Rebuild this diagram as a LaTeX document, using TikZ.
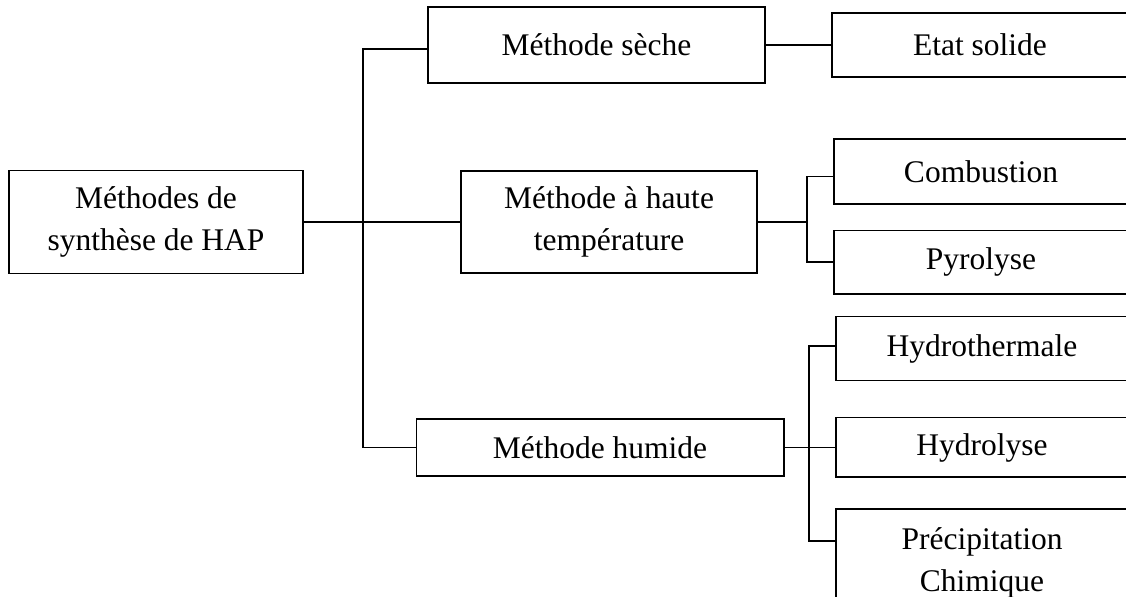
\documentclass[tikz,border=0pt]{standalone}
\usepackage{fontspec}
\setmainfont{Liberation Serif}
\usepackage{tikz}
\usetikzlibrary{positioning,calc}

\tikzset{
  box/.style={draw, line width=0.8pt, align=center, inner sep=0pt},
  link/.style={line width=0.8pt}
}

\begin{document}
\begin{tikzpicture}[x=0.5pt, y=-0.5pt, font=\fontsize{15.75}{20.8}\selectfont]
% 1 unit = 1 px of the 1126 x 597 sheet, y downwards
\useasboundingbox (0,0) rectangle (1126,597);
\clip (0,0) rectangle (1126,597);
\node[box, minimum width=147pt, minimum height=51.5pt] (root) at (156,222) {Méthodes de\\synthèse de HAP};
\node[box, minimum width=168.5pt, minimum height=37.8pt] (seche) at (596.5,45) {Méthode sèche};
\node[box, minimum width=148pt, minimum height=51pt] (haute) at (609,222) {Méthode à haute\\température};
\node[box, minimum width=183.7pt, minimum height=28.3pt] (humide) at (600,447.5) {Méthode humide};
% right column, cut by the sheet edge
\node[box, minimum width=148pt, minimum height=32pt] (etat) at (980,45) {Etat solide};
\node[box, minimum width=147pt, minimum height=32.5pt] (comb) at (981,171.5) {Combustion};
\node[box, minimum width=147pt, minimum height=31.7pt] (pyro) at (981,262.3) {Pyrolyse};
\node[box, minimum width=146pt, minimum height=32pt] (hydrot) at (982,348.7) {Hydrothermale};
\node[box, minimum width=146pt, minimum height=29.8pt] (hydrol) at (982,447.5) {Hydrolyse};
\node[box, minimum width=146pt, minimum height=54pt] (precip) at (982,563) {Précipitation\\Chimique};
\coordinate (trunk) at (363,0);
\coordinate (b1) at (807,0);
\coordinate (b2) at (809,0);
\draw[link] (root.east) -- (haute.west);
\draw[link] ([yshift=-2pt]seche.west) -- ([yshift=-2pt]seche.west -| trunk) -- (humide.west -| trunk) -- (humide.west);
\draw[link] (seche.east) -- (etat.west);
\draw[link] (haute.east) -- (haute.east -| b1);
\draw[link] ([yshift=-2.6pt]comb.west) -- ([yshift=-2.6pt]comb.west -| b1) -- (pyro.west -| b1) -- (pyro.west);
\draw[link] (humide.east) -- (hydrol.west);
\draw[link] ([yshift=1.3pt]hydrot.west) -- ([yshift=1.3pt]hydrot.west -| b2) -- ([yshift=11pt]precip.west -| b2) -- ([yshift=11pt]precip.west);
\end{tikzpicture}
\end{document}
